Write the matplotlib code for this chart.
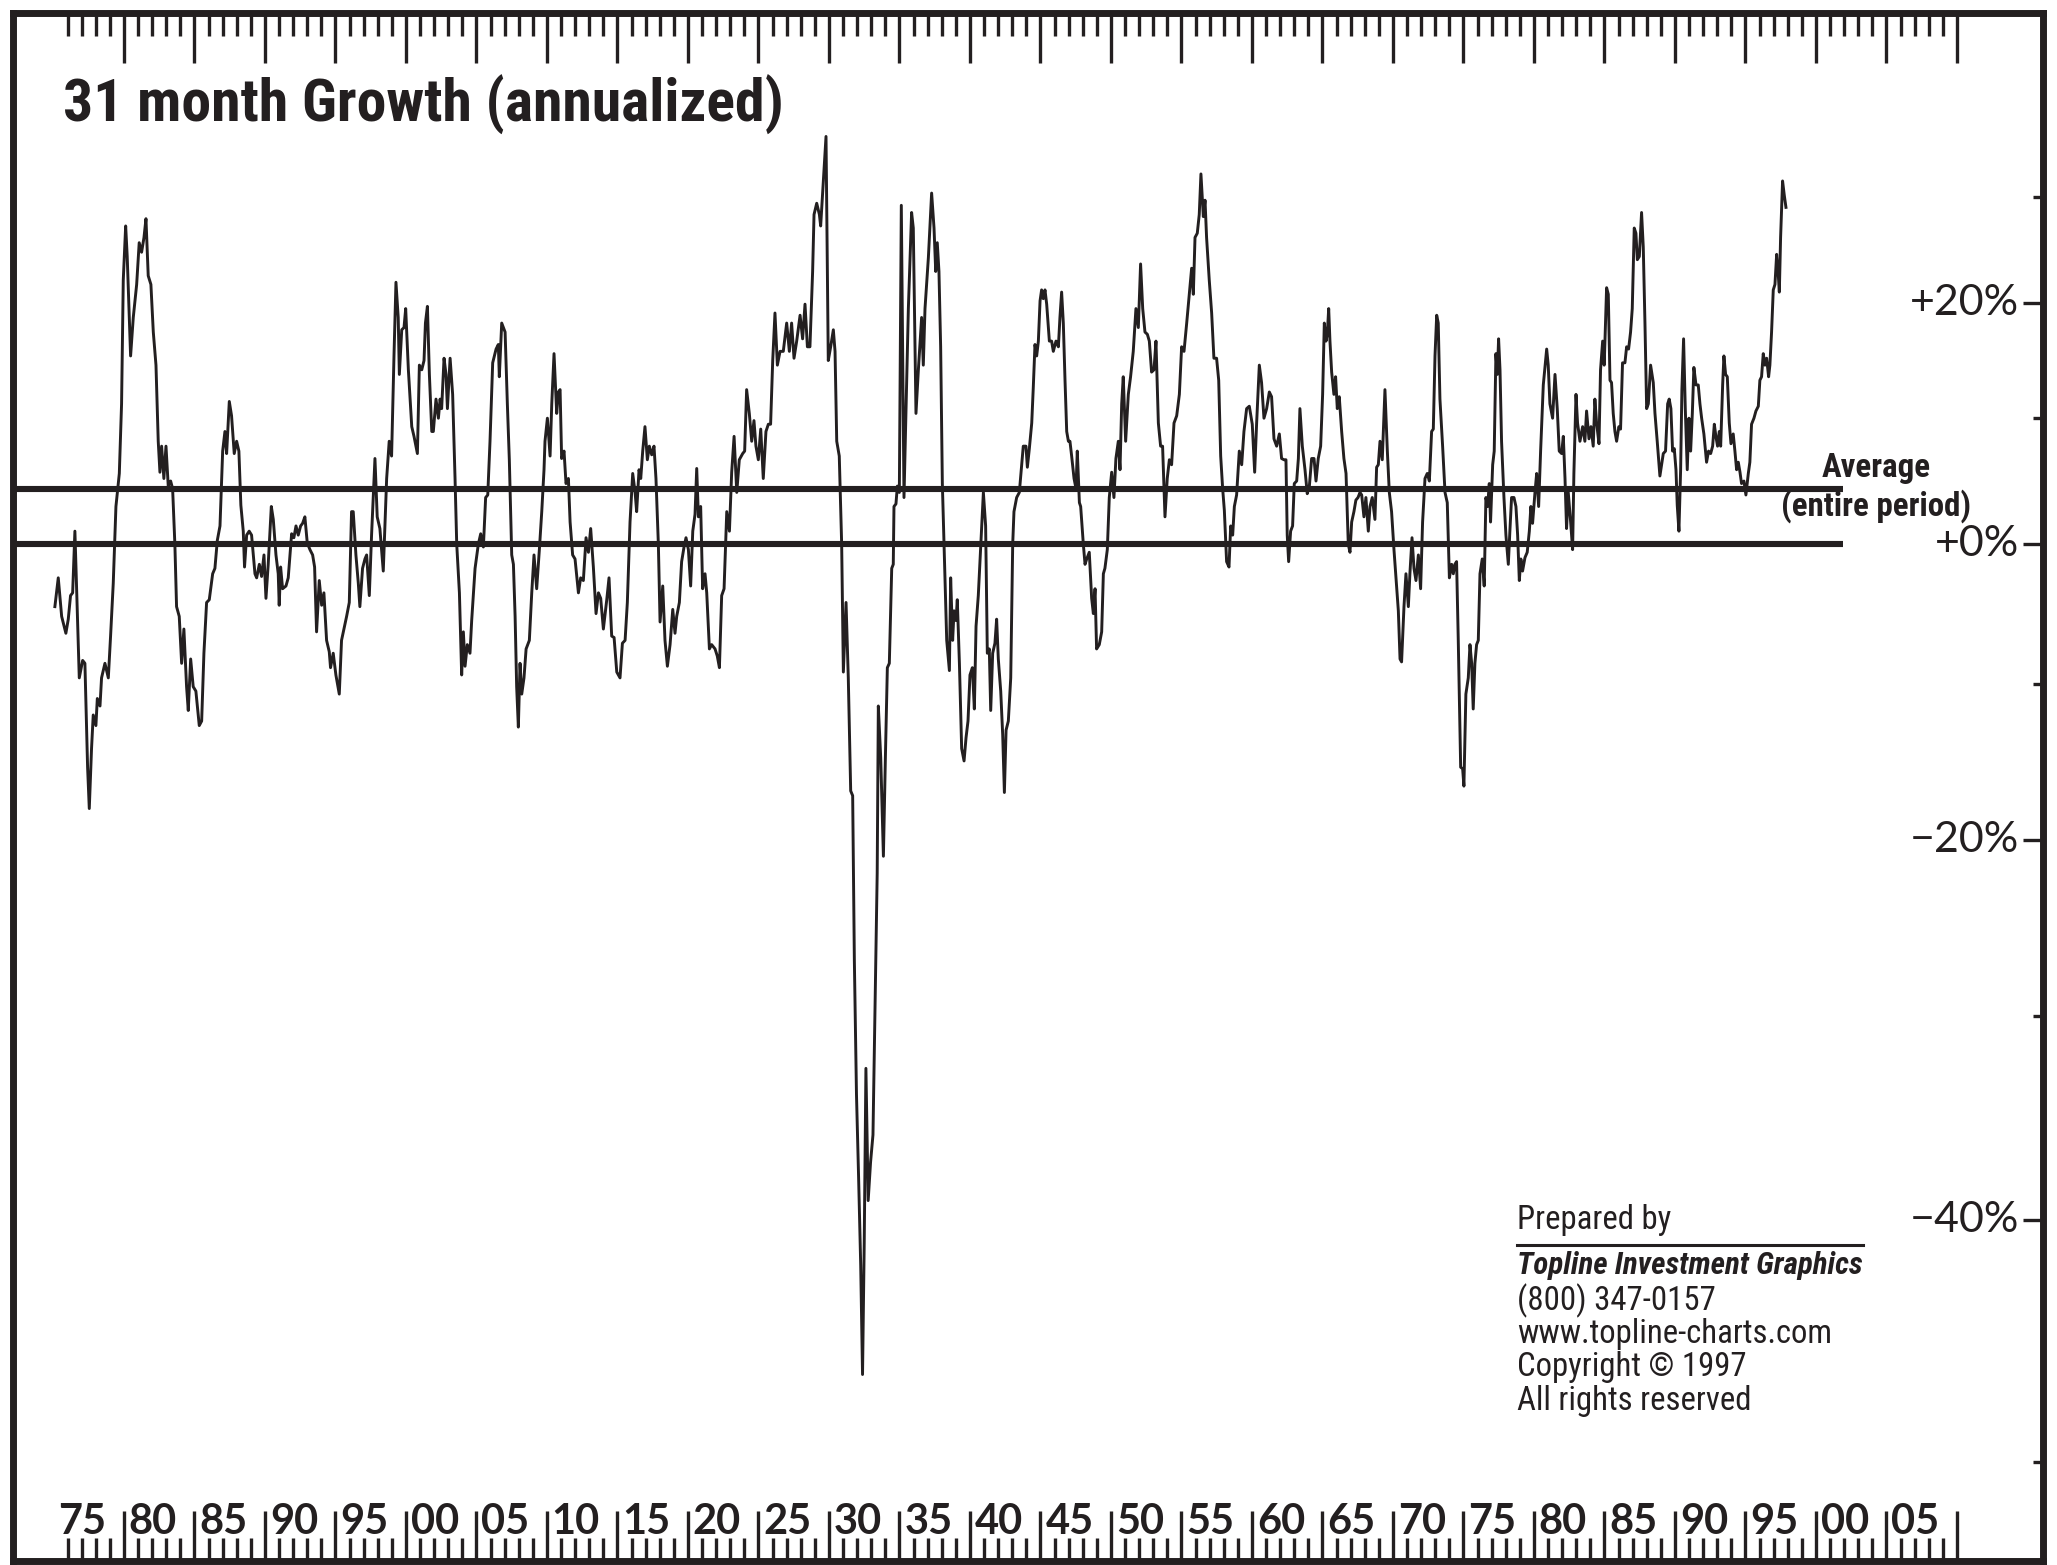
import matplotlib.pyplot as plt
import matplotlib.transforms as mtransforms
from matplotlib import font_manager
from matplotlib.ticker import FixedLocator, NullFormatter

# 31-month growth, annualized (%)
years = [
    1875.10, 1875.34, 1875.58, 1875.88, 1876.05, 1876.21, 1876.36, 1876.52, 1876.83, 1877.07,
    1877.23, 1877.42, 1877.54, 1877.70, 1877.82, 1878.01, 1878.11, 1878.30, 1878.41, 1878.65,
    1878.89, 1879.05, 1879.24, 1879.43, 1879.67, 1879.83, 1879.95, 1880.12, 1880.23, 1880.47,
    1880.66, 1880.90, 1881.08, 1881.25, 1881.42, 1881.56, 1881.72, 1881.91, 1882.08, 1882.27,
    1882.43, 1882.55, 1882.67, 1882.83, 1882.98, 1883.14, 1883.31, 1883.45, 1883.61, 1883.73,
    1883.92, 1884.09, 1884.25, 1884.44, 1884.56, 1884.73, 1884.91, 1885.10, 1885.34, 1885.51,
    1885.67, 1885.86, 1886.05, 1886.29, 1886.45, 1886.62, 1886.81, 1887.00, 1887.16, 1887.28,
    1887.47, 1887.63, 1887.82, 1887.99, 1888.15, 1888.29, 1888.46, 1888.55, 1888.70, 1888.88,
    1889.05, 1889.29, 1889.41, 1889.60, 1889.76, 1889.93, 1890.07, 1890.23, 1890.45, 1890.59,
    1890.78, 1890.94, 1891.01, 1891.11, 1891.25, 1891.49, 1891.65, 1891.89, 1892.05, 1892.20,
    1892.36, 1892.53, 1892.67, 1892.83, 1893.00, 1893.19, 1893.38, 1893.52, 1893.66, 1893.85,
    1894.02, 1894.18, 1894.37, 1894.56, 1894.65, 1894.84, 1895.03, 1895.27, 1895.43, 1895.60,
    1895.79, 1895.98, 1896.14, 1896.26, 1896.45, 1896.62, 1896.73, 1896.92, 1897.09, 1897.21,
    1897.40, 1897.56, 1897.80, 1897.96, 1898.15, 1898.39, 1898.63, 1898.81, 1898.98, 1899.15,
    1899.29, 1899.45, 1899.53, 1899.70, 1899.86, 1899.98, 1900.17, 1900.41, 1900.57, 1900.81,
    1900.95, 1901.12, 1901.28, 1901.38, 1901.52, 1901.66, 1901.83, 1901.94, 1902.13, 1902.30,
    1902.42, 1902.53, 1902.70, 1902.84, 1902.94, 1903.13, 1903.31, 1903.48, 1903.60, 1903.79,
    1903.95, 1904.07, 1904.19, 1904.35, 1904.54, 1904.66, 1904.90, 1905.13, 1905.30, 1905.49,
    1905.65, 1905.80, 1905.96, 1906.15, 1906.39, 1906.55, 1906.62, 1906.79, 1907.03, 1907.19,
    1907.33, 1907.50, 1907.62, 1907.74, 1907.85, 1907.97, 1908.09, 1908.21, 1908.37, 1908.52,
    1908.75, 1908.92, 1909.08, 1909.27, 1909.46, 1909.63, 1909.79, 1909.86, 1910.03, 1910.22,
    1910.34, 1910.50, 1910.69, 1910.81, 1910.93, 1911.04, 1911.21, 1911.35, 1911.52, 1911.64,
    1911.82, 1911.99, 1912.23, 1912.39, 1912.58, 1912.77, 1912.94, 1913.10, 1913.29, 1913.48,
    1913.65, 1913.81, 1914.00, 1914.24, 1914.40, 1914.59, 1914.76, 1914.95, 1915.18, 1915.35,
    1915.54, 1915.70, 1915.89, 1916.08, 1916.25, 1916.36, 1916.53, 1916.65, 1916.79, 1916.95,
    1917.12, 1917.26, 1917.43, 1917.59, 1917.73, 1917.90, 1918.02, 1918.21, 1918.37, 1918.54,
    1918.73, 1918.92, 1919.08, 1919.20, 1919.39, 1919.55, 1919.72, 1919.86, 1920.03, 1920.19,
    1920.34, 1920.50, 1920.62, 1920.74, 1920.90, 1921.04, 1921.21, 1921.33, 1921.52, 1921.68,
    1921.92, 1922.08, 1922.23, 1922.39, 1922.56, 1922.75, 1922.94, 1923.10, 1923.27, 1923.46,
    1923.64, 1923.88, 1924.02, 1924.16, 1924.35, 1924.52, 1924.68, 1924.82, 1924.99, 1925.16,
    1925.34, 1925.53, 1925.70, 1925.86, 1926.01, 1926.17, 1926.34, 1926.53, 1926.76, 1927.00,
    1927.19, 1927.35, 1927.52, 1927.71, 1927.95, 1928.13, 1928.30, 1928.47, 1928.65, 1928.84,
    1928.94, 1929.13, 1929.32, 1929.41, 1929.60, 1929.79, 1929.95, 1930.12, 1930.31, 1930.43,
    1930.55, 1930.73, 1930.90, 1931.02, 1931.21, 1931.37, 1931.54, 1931.68, 1931.80, 1931.95,
    1932.10, 1932.25, 1932.38, 1932.50, 1932.62, 1932.78, 1932.95, 1933.12, 1933.30, 1933.42,
    1933.50, 1933.67, 1933.86, 1934.00, 1934.14, 1934.28, 1934.45, 1934.56, 1934.61, 1934.75,
    1934.85, 1934.99, 1935.13, 1935.32, 1935.63, 1935.86, 1935.98, 1936.17, 1936.34, 1936.57,
    1936.69, 1936.81, 1937.05, 1937.28, 1937.45, 1937.57, 1937.68, 1937.80, 1937.92, 1938.04,
    1938.16, 1938.35, 1938.54, 1938.63, 1938.77, 1938.87, 1939.01, 1939.10, 1939.25, 1939.41,
    1939.58, 1939.72, 1939.86, 1940.00, 1940.17, 1940.31, 1940.43, 1940.59, 1940.71, 1940.83,
    1940.95, 1941.11, 1941.23, 1941.37, 1941.47, 1941.61, 1941.77, 1941.89, 1942.01, 1942.18,
    1942.32, 1942.44, 1942.56, 1942.72, 1942.89, 1943.03, 1943.12, 1943.31, 1943.50, 1943.67,
    1943.78, 1943.97, 1944.07, 1944.21, 1944.38, 1944.49, 1944.61, 1944.73, 1944.85, 1944.97,
    1945.08, 1945.20, 1945.32, 1945.44, 1945.63, 1945.79, 1945.91, 1946.10, 1946.27, 1946.38,
    1946.50, 1946.62, 1946.74, 1946.86, 1946.98, 1947.09, 1947.21, 1947.38, 1947.52, 1947.61,
    1947.76, 1947.85, 1948.04, 1948.16, 1948.28, 1948.46, 1948.63, 1948.75, 1948.87, 1948.98,
    1949.17, 1949.34, 1949.46, 1949.57, 1949.74, 1949.88, 1950.05, 1950.21, 1950.35, 1950.52,
    1950.64, 1950.76, 1950.87, 1951.04, 1951.23, 1951.39, 1951.58, 1951.77, 1951.94, 1952.10,
    1952.25, 1952.41, 1952.58, 1952.72, 1952.88, 1953.05, 1953.19, 1953.36, 1953.52, 1953.66,
    1953.83, 1953.99, 1954.14, 1954.30, 1954.47, 1954.66, 1954.85, 1955.01, 1955.18, 1955.37,
    1955.55, 1955.72, 1955.84, 1955.96, 1956.12, 1956.26, 1956.38, 1956.55, 1956.67, 1956.78,
    1956.97, 1957.14, 1957.30, 1957.49, 1957.64, 1957.78, 1957.92, 1958.04, 1958.20, 1958.37,
    1958.49, 1958.63, 1958.75, 1958.91, 1959.10, 1959.27, 1959.43, 1959.62, 1959.81, 1960.02,
    1960.19, 1960.33, 1960.52, 1960.68, 1960.85, 1961.04, 1961.23, 1961.39, 1961.56, 1961.75,
    1961.94, 1962.10, 1962.27, 1962.41, 1962.50, 1962.60, 1962.74, 1962.88, 1963.00, 1963.17,
    1963.29, 1963.40, 1963.57, 1963.76, 1963.92, 1964.07, 1964.23, 1964.40, 1964.54, 1964.70,
    1964.87, 1965.01, 1965.13, 1965.25, 1965.34, 1965.44, 1965.53, 1965.65, 1965.81, 1965.93,
    1966.05, 1966.19, 1966.36, 1966.52, 1966.67, 1966.83, 1966.95, 1967.07, 1967.23, 1967.37,
    1967.52, 1967.66, 1967.78, 1967.94, 1968.08, 1968.25, 1968.37, 1968.53, 1968.72, 1968.84,
    1968.96, 1969.08, 1969.24, 1969.43, 1969.60, 1969.74, 1969.90, 1970.07, 1970.21, 1970.38,
    1970.50, 1970.61, 1970.78, 1970.92, 1971.09, 1971.20, 1971.35, 1971.49, 1971.63, 1971.80,
    1971.96, 1972.10, 1972.27, 1972.43, 1972.58, 1972.74, 1972.86, 1972.98, 1973.10, 1973.21,
    1973.33, 1973.52, 1973.69, 1973.85, 1974.00, 1974.16, 1974.28, 1974.39, 1974.51, 1974.63,
    1974.80, 1974.94, 1975.03, 1975.17, 1975.34, 1975.46, 1975.58, 1975.69, 1975.81, 1975.93,
    1976.05, 1976.17, 1976.33, 1976.47, 1976.59, 1976.71, 1976.83, 1976.92, 1977.07, 1977.18,
    1977.30, 1977.40, 1977.49, 1977.59, 1977.70, 1977.87, 1978.01, 1978.18, 1978.29, 1978.41,
    1978.58, 1978.72, 1978.84, 1978.96, 1979.07, 1979.19, 1979.36, 1979.52, 1979.67, 1979.78,
    1979.90, 1980.07, 1980.19, 1980.33, 1980.47, 1980.66, 1980.90, 1981.01, 1981.13, 1981.32,
    1981.49, 1981.65, 1981.79, 1981.96, 1982.08, 1982.20, 1982.31, 1982.43, 1982.60, 1982.74,
    1982.83, 1982.98, 1983.09, 1983.26, 1983.45, 1983.61, 1983.73, 1983.90, 1984.04, 1984.20,
    1984.32, 1984.44, 1984.61, 1984.72, 1984.87, 1984.98, 1985.15, 1985.27, 1985.39, 1985.50,
    1985.62, 1985.74, 1985.86, 1986.02, 1986.14, 1986.28, 1986.45, 1986.57, 1986.71, 1986.85,
    1986.97, 1987.11, 1987.23, 1987.33, 1987.47, 1987.63, 1987.75, 1987.87, 1987.99, 1988.11,
    1988.27, 1988.46, 1988.58, 1988.74, 1988.93, 1989.05, 1989.17, 1989.33, 1989.48, 1989.59,
    1989.71, 1989.83, 1989.95, 1990.07, 1990.16, 1990.28, 1990.40, 1990.49, 1990.61, 1990.73,
    1990.87, 1990.99, 1991.11, 1991.23, 1991.34, 1991.49, 1991.65, 1991.77, 1991.89, 1992.05,
    1992.24, 1992.38, 1992.53, 1992.67, 1992.79, 1992.90, 1993.02, 1993.14, 1993.24, 1993.38,
    1993.47, 1993.59, 1993.71, 1993.85, 1993.97, 1994.13, 1994.25, 1994.37, 1994.49, 1994.61,
    1994.72, 1994.89, 1995.03, 1995.20, 1995.31, 1995.43, 1995.60, 1995.74, 1995.91, 1996.02,
    1996.14, 1996.26, 1996.38, 1996.50, 1996.64, 1996.73, 1996.85, 1996.97, 1997.09, 1997.21,
    1997.33, 1997.40, 1997.49, 1997.63, 1997.75, 1997.87,
]
growth_pct = [
    -4.6, -2.5, -5.3, -6.5, -5.5, -3.8, -3.6, 1.0, -9.6, -8.4,
    -8.6, -15.5, -18.1, -14.3, -12.1, -12.8, -11.0, -11.5, -9.6, -8.6,
    -9.6, -6.7, -2.9, 2.9, 5.5, 11.2, 22.1, 27.2, 24.3, 15.3,
    18.7, 21.7, 25.6, 24.7, 26.1, 27.9, 22.5, 21.7, 17.4, 14.5,
    8.1, 5.6, 7.7, 5.1, 7.7, 4.5, 4.9, 4.3, 0.0, -4.6,
    -5.3, -8.6, -6.2, -10.2, -11.8, -8.3, -10.2, -10.5, -12.8, -12.5,
    -7.9, -4.3, -4.1, -2.2, -1.8, 0.3, 1.4, 7.3, 8.9, 7.1,
    11.4, 10.2, 7.1, 8.1, 7.3, 3.0, 1.0, -1.7, 0.7, 1.0,
    0.7, -2.2, -2.5, -1.5, -2.4, -0.8, -4.0, -1.5, 2.9, 1.9,
    -0.8, -2.2, -4.5, -1.7, -3.3, -3.1, -2.5, 0.8, 0.5, 1.4,
    0.7, 1.4, 1.6, 2.1, 0.1, -0.4, -0.8, -1.7, -6.4, -2.7,
    -4.5, -3.6, -7.0, -7.8, -8.9, -7.9, -9.4, -10.7, -7.0, -6.2,
    -5.3, -4.3, 2.5, 2.5, -0.8, -2.9, -4.6, -1.8, -1.1, -0.8,
    -3.8, 0.7, 6.7, 2.1, 1.2, -2.0, 5.1, 8.1, 6.9, 15.3,
    21.9, 18.7, 13.7, 17.6, 17.8, 19.5, 14.1, 9.3, 8.5, 7.1,
    14.5, 14.1, 14.9, 18.2, 19.7, 13.7, 8.9, 8.9, 11.6, 10.0,
    11.6, 10.8, 15.1, 13.7, 10.8, 15.1, 12.0, 5.1, 0.0, -3.6,
    -9.4, -6.4, -8.8, -7.3, -7.9, -5.6, -1.8, 0.0, 0.8, -0.2,
    3.6, 3.8, 8.1, 14.7, 15.9, 16.3, 13.5, 18.2, 17.4, 11.2,
    6.6, -0.8, -1.5, -5.3, -10.2, -12.9, -8.6, -10.7, -9.6, -7.6,
    -7.0, -3.6, -0.8, -3.3, -0.4, 2.5, 5.8, 8.1, 10.0, 6.9,
    11.2, 15.5, 10.4, 12.2, 12.4, 6.7, 7.3, 4.7, 5.1, 1.7,
    -0.8, -1.1, -3.6, -2.5, -2.7, 0.5, -0.6, 1.2, -1.7, -5.1,
    -3.6, -4.0, -6.2, -4.1, -2.5, -6.7, -6.8, -9.2, -9.6, -7.2,
    -7.0, -4.3, 1.7, 5.5, 4.0, 2.5, 5.8, 5.1, 7.3, 9.3,
    6.6, 7.7, 7.0, 7.7, 5.1, 0.0, -5.7, -3.1, -7.0, -8.8,
    -7.3, -4.8, -6.5, -5.3, -4.3, -1.3, -0.2, 0.5, -0.4, -3.1,
    1.0, 2.3, 5.9, 2.1, 2.9, -3.3, -2.2, -3.6, -7.6, -7.3,
    -7.6, -8.1, -8.9, -3.8, -3.3, 2.5, 1.0, 5.6, 8.5, 4.0,
    6.6, 7.1, 7.3, 12.4, 10.4, 8.1, 9.8, 7.7, 6.6, 9.1,
    5.1, 8.9, 9.5, 9.5, 14.9, 19.1, 14.5, 15.7, 15.7, 18.2,
    15.7, 18.2, 15.1, 16.6, 18.9, 16.8, 19.9, 16.1, 16.1, 22.9,
    28.3, 29.4, 28.3, 27.2, 31.6, 36.1, 14.9, 16.1, 17.6, 15.7,
    8.1, 6.9, 0.0, -9.2, -4.3, -9.6, -17.0, -17.3, -27.0, -34.0,
    -38.0, -42.0, -46.6, -41.0, -32.7, -39.1, -37.3, -36.0, -28.0, -22.0,
    -11.5, -14.9, -21.0, -14.9, -8.9, -8.6, -1.8, -1.5, 2.9, 3.1,
    4.5, 4.0, 29.2, 3.6, 19.5, 28.5, 27.0, 10.4, 14.1, 18.7,
    14.5, 19.5, 24.2, 30.4, 27.0, 22.9, 25.6, 22.9, 16.1, 4.7,
    0.0, -7.0, -9.1, -2.5, -7.0, -4.9, -5.6, -4.1, -8.6, -14.3,
    -15.1, -13.6, -12.5, -9.4, -8.9, -11.7, -6.0, -3.8, -1.3, 1.4,
    4.0, 1.4, -7.9, -7.6, -11.8, -7.9, -7.2, -5.5, -8.3, -10.5,
    -13.4, -17.1, -13.1, -12.5, -9.6, 0.0, 2.5, 3.6, 4.0, 6.2,
    7.7, 7.7, 6.0, 7.5, 9.6, 12.6, 16.3, 15.3, 16.6, 20.2,
    21.2, 20.4, 21.2, 19.9, 16.6, 16.6, 15.7, 16.6, 16.1, 18.7,
    21.0, 18.2, 13.2, 8.9, 8.1, 8.1, 6.9, 5.1, 4.3, 7.3,
    3.2, 2.9, 0.0, -1.5, -1.1, -0.6, -4.0, -5.1, -3.3, -7.6,
    -7.3, -6.4, -2.2, -1.8, -0.4, 3.6, 5.6, 3.6, 6.7, 8.1,
    5.8, 11.2, 13.5, 8.1, 12.0, 13.5, 15.7, 19.5, 17.8, 23.6,
    19.5, 17.4, 17.2, 16.6, 13.9, 14.1, 16.6, 9.6, 7.7, 7.7,
    2.1, 5.1, 6.6, 6.2, 9.6, 10.2, 12.0, 16.1, 15.7, 18.2,
    20.8, 23.2, 20.8, 26.1, 26.5, 28.3, 32.3, 28.1, 29.7, 26.1,
    22.1, 19.1, 15.1, 15.1, 13.2, 6.9, 4.3, 2.6, -1.3, -1.7,
    1.4, 0.7, 2.9, 3.8, 7.3, 6.2, 8.9, 10.8, 11.0, 9.5,
    5.6, 9.6, 14.5, 13.0, 10.0, 10.8, 12.2, 11.8, 8.3, 7.7,
    8.7, 6.7, 6.6, 6.6, 0.7, -1.3, 1.0, 1.4, 4.7, 4.9,
    6.7, 10.8, 7.7, 5.8, 3.9, 4.5, 6.7, 6.7, 4.9, 6.7,
    7.7, 12.0, 18.2, 16.6, 17.2, 19.5, 16.6, 13.9, 12.0, 13.5,
    10.8, 11.8, 8.9, 6.7, 5.5, 0.0, -0.6, 1.7, 2.5, 3.4,
    3.6, 4.0, 3.8, 2.1, 3.6, 1.0, 2.9, 3.6, 1.9, 6.0,
    6.2, 8.1, 6.6, 12.4, 7.3, 4.0, 2.5, -0.4, -2.5, -4.9,
    -8.3, -8.5, -4.6, -2.2, -4.6, -2.2, 0.5, -1.8, -2.7, -0.8,
    -3.3, 1.7, 5.1, 5.5, 4.9, 8.9, 9.1, 15.3, 18.9, 18.2,
    11.6, 7.7, 4.0, 3.2, -2.5, -1.5, -2.2, -1.5, -1.3, -7.0,
    -15.5, -15.6, -16.7, -10.7, -9.6, -7.3, -8.6, -11.7, -8.6, -7.3,
    -7.0, -2.2, -1.1, -3.1, 3.6, 2.9, 4.7, 1.7, 6.2, 7.3,
    15.5, 13.7, 16.8, 14.1, 8.1, 3.6, 0.7, -1.5, 1.0, 3.6,
    3.6, 2.9, 0.7, -2.7, -1.1, -2.0, -1.0, -0.6, 1.0, 2.9,
    1.6, 4.0, 5.5, 2.9, 7.3, 12.8, 15.9, 14.5, 11.2, 10.0,
    13.7, 10.8, 7.3, 7.1, 8.5, 5.1, 1.2, 4.0, 1.7, -0.4,
    5.5, 12.0, 9.6, 8.1, 9.3, 8.1, 10.6, 8.3, 9.3, 7.7,
    11.6, 9.6, 7.9, 14.1, 16.6, 14.5, 21.4, 20.8, 13.2, 13.0,
    10.4, 8.9, 8.1, 9.3, 9.1, 14.7, 14.7, 16.1, 15.9, 17.4,
    19.5, 27.0, 26.5, 24.0, 24.3, 28.5, 25.2, 18.2, 10.8, 11.2,
    14.5, 13.0, 10.4, 8.1, 5.3, 6.2, 7.1, 7.3, 11.2, 11.6,
    10.8, 7.3, 7.5, 5.8, 3.0, 1.0, 5.8, 12.4, 16.8, 10.8,
    5.8, 10.0, 7.3, 10.4, 14.3, 12.8, 12.8, 11.2, 10.0, 8.7,
    6.4, 7.3, 7.1, 7.7, 9.5, 8.5, 7.7, 8.9, 7.7, 12.8,
    15.3, 13.7, 13.5, 9.6, 7.9, 8.7, 7.3, 5.8, 6.4, 5.6,
    4.7, 4.9, 3.8, 5.5, 6.4, 9.5, 10.0, 10.6, 11.0, 13.2,
    13.5, 15.5, 14.5, 15.1, 13.5, 14.5, 17.4, 21.2, 21.7, 24.5,
    22.5, 21.0, 26.1, 31.6, 30.2, 29.0,
]
assert len(years) == len(growth_pct)

average_pct = 4.3
label_years = list(range(1875, 2006, 5))
major_years = list(range(1880, 2011, 5))
minor_years = [y for y in range(1876, 2010) if y % 5]
pct_labels = [20, 0, -20, -40]
pct_minor = [30, 10, -10, -30, -50]
credit_lines = ["Prepared by", "Topline Investment Graphics", "(800) 347-0157",
                "www.topline-charts.com", "Copyright \u00a9 1997", "All rights reserved"]

INK = "#231f20"
ROUND = ["Lato", "DejaVu Sans"]

# pick a narrow sans if one is installed, otherwise fall back to DejaVu
installed = {f.name for f in font_manager.fontManager.ttflist}
narrow = next((n for n in ["Roboto Condensed", "Open Sans Condensed",
                           "Liberation Sans Narrow", "Arial Narrow"]
               if n in installed), "DejaVu Sans")
NARROW = [narrow, "DejaVu Sans"]

fig = plt.figure(figsize=(20.57, 15.65), dpi=100)
ax = fig.add_axes([13 / 2057, 4 / 1565, 2030 / 2057, 1548 / 1565])

factors = [1 + g / 100 for g in growth_pct]
ax.plot(years, factors, color=INK, lw=2.1)

ax.set_yscale("log")
ax.set_xlim(1872.13, 2016.10)
ax.set_ylim(0.4638, 1.4941)

# zero and average reference lines
x_end = 2001.9
ax.hlines(1.0, 1872.13, x_end, color=INK, lw=4.4)
ax.hlines(1 + average_pct / 100, 1872.13, x_end, color=INK, lw=4.4)

for s in ax.spines.values():
    s.set_linewidth(5)
    s.set_color(INK)

# year ruler top and bottom
ax.xaxis.set_major_locator(FixedLocator(major_years))
ax.xaxis.set_minor_locator(FixedLocator(minor_years))
ax.xaxis.set_major_formatter(NullFormatter())
ax.xaxis.set_minor_formatter(NullFormatter())
ax.tick_params(axis="x", which="both", direction="in", top=True, bottom=True,
               color=INK, width=2.4)
ax.tick_params(axis="x", which="major", length=36)
ax.tick_params(axis="x", which="minor", length=16.5)

# percent ticks on the right
ax.yaxis.set_ticks_position("right")
ax.yaxis.set_major_locator(FixedLocator([1 + p / 100 for p in pct_labels]))
ax.yaxis.set_minor_locator(FixedLocator([1 + p / 100 for p in pct_minor]))
ax.yaxis.set_major_formatter(NullFormatter())
ax.yaxis.set_minor_formatter(NullFormatter())
ax.tick_params(axis="y", which="both", direction="in", color=INK, width=2.4)
ax.tick_params(axis="y", which="major", length=14.5)
ax.tick_params(axis="y", which="minor", length=7)

ytrans = mtransforms.blended_transform_factory(ax.transAxes, ax.transData)
for p in pct_labels:
    sign = "+" if p >= 0 else "\u2212"
    ax.text(1 - 24 / 2030, 1 + p / 100, f"{sign}{abs(p)}%", transform=ytrans,
            ha="right", va="center", fontsize=31, color=INK, family=ROUND)

xtrans = mtransforms.blended_transform_factory(ax.transData, ax.transAxes)
for yr in label_years:
    ax.text(yr + 2.05, 0.0252, f"{yr % 100:02d}", transform=xtrans,
            ha="center", va="center", fontsize=30, fontweight="bold",
            color=INK, family=ROUND)

renderer = fig.canvas.get_renderer()


def fit_width(texts, target_px):
    # scale a group of texts so the widest one spans target_px
    w = max(t.get_window_extent(renderer).width for t in texts)
    for t in texts:
        t.set_fontsize(t.get_fontsize() * target_px / w)


title = ax.text(0.0246, 0.9406, "31 month Growth (annualized)", transform=ax.transAxes,
                ha="left", va="center", fontsize=40, fontweight="heavy",
                fontstretch="condensed", color=INK, family=NARROW)
fit_width([title], 720)

avg1 = ax.text(0.9177, 0.7061, "Average", transform=ax.transAxes, ha="center",
               va="center", fontsize=21, fontweight="bold", fontstretch="condensed",
               color=INK, family=NARROW)
avg2 = ax.text(0.9177, 0.6815, "(entire period)", transform=ax.transAxes, ha="center",
               va="center", fontsize=21, fontweight="bold", fontstretch="condensed",
               color=INK, family=NARROW)
fit_width([avg1, avg2], 190)

# credits block
credit_y = [0.2203, 0.1912, 0.1680, 0.1466, 0.1253, 0.1034]
plain, brand = [], []
for line, cy in zip(credit_lines, credit_y):
    bold = line.startswith("Topline")
    t = ax.text(0.7409, cy, line, transform=ax.transAxes, ha="left", va="center",
                fontsize=23, color=INK, family=NARROW, fontstretch="condensed",
                fontweight="bold" if bold else "normal",
                fontstyle="italic" if bold else "normal")
    (brand if bold else plain).append(t)
fit_width(plain, 316)
fit_width(brand, 346)
ax.plot([0.7409, 0.9113], [0.2041, 0.2041], transform=ax.transAxes,
        color=INK, lw=2.2, clip_on=False)

fig.savefig("out.png", dpi=100)
